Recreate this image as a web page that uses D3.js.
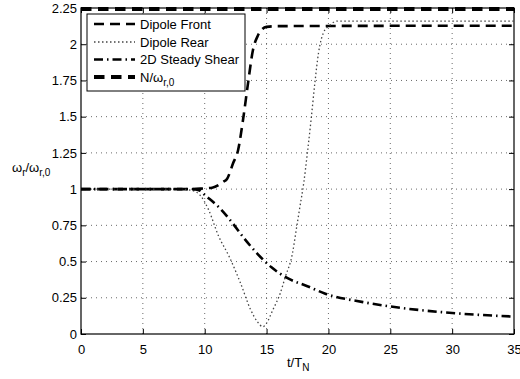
<!DOCTYPE html>
<html>
<head>
<meta charset="utf-8">
<script src="https://cdn.jsdelivr.net/npm/d3@7"></script>
<style>
  html, body { margin: 0; padding: 0; background: #fff; }
  svg { display: block; font-family: "Liberation Sans", Arial, Helvetica, sans-serif; }
</style>
</head>
<body>
<svg id="chart" width="520" height="379"></svg>
<script>
// ---- data ----
const xTicks = [0, 5, 10, 15, 20, 25, 30, 35];
const yTicks = [0, 0.25, 0.5, 0.75, 1, 1.25, 1.5, 1.75, 2, 2.25];
const yTickLabels = ["0", "0.25", "0.5", "0.75", "1", "1.25", "1.5", "1.75", "2", "2.25"];

const frontT = [0, 9, 9.9, 10.6, 11.5, 11.8, 12.3, 12.7, 13.1, 13.5, 13.9, 14.3, 14.6, 15, 16, 35];
const frontV = [1, 1, 1.005, 1.01, 1.05, 1.07, 1.18, 1.27, 1.48, 1.73, 1.96, 2.06, 2.1, 2.12, 2.125, 2.128];

const rearT = [0, 8, 9, 9.6, 10.3, 11.1, 12, 12.9, 13.7, 14.3, 14.7, 15, 15.5, 16.1, 16.5, 17.1, 17.4, 17.7, 18, 18.3, 18.6, 18.9, 19.2, 19.6, 20.1, 20.7, 35];
const rearV = [1, 1, 0.99, 0.96, 0.86, 0.68, 0.53, 0.35, 0.17, 0.08, 0.05, 0.075, 0.165, 0.28, 0.39, 0.56, 0.72, 0.88, 1.04, 1.25, 1.48, 1.73, 1.94, 2.08, 2.13, 2.16, 2.16];

const shearT = [0, 9, 9.6, 10, 11.2, 12.3, 13.1, 14.3, 15.4, 16.7, 18.3, 19.7, 22.8, 25, 30, 35];
const shearV = [1, 1, 0.99, 0.96, 0.87, 0.76, 0.67, 0.55, 0.46, 0.385, 0.33, 0.28, 0.22, 0.19, 0.145, 0.12];

const nT = [0, 35];
const nV = [2.243, 2.243];

const seriesNames = ["Dipole Front", "Dipole Rear", "2D Steady Shear", "N/ω"];

// ---- layout ----
const svg = d3.select("#chart");
const margin = {left: 81, right: 6, top: 8, bottom: 45};
const W = 520, H = 379;
const x = d3.scaleLinear().domain([0, 35]).range([margin.left, W - margin.right]);
const y = d3.scaleLinear().domain([0, 2.25]).range([H - margin.bottom, margin.top]);
const x0 = x.range()[0], x1 = x.range()[1], y0 = y.range()[0], y1 = y.range()[1];

// grid
const grid = svg.append("g");
grid.selectAll(".vg").data(xTicks.slice(1, -1)).enter().append("line")
  .attr("x1", d => x(d)).attr("x2", d => x(d)).attr("y1", y0).attr("y2", y1)
  .attr("stroke", "#444").attr("stroke-width", 0.8).attr("stroke-dasharray", "1,4");
grid.selectAll(".hg").data(yTicks.slice(1, -1)).enter().append("line")
  .attr("x1", x0).attr("x2", x1).attr("y1", d => y(d)).attr("y2", d => y(d))
  .attr("stroke", "#444").attr("stroke-width", 0.8).attr("stroke-dasharray", "1,4");

// axes (MATLAB style: inward ticks on all 4 sides)
const fontSize = 13;
const gBottom = svg.append("g").attr("transform", `translate(0,${y0})`)
  .call(d3.axisBottom(x).tickValues(xTicks).tickSizeInner(-5).tickSizeOuter(0).tickPadding(11));
const gTop = svg.append("g").attr("transform", `translate(0,${y1})`)
  .call(d3.axisTop(x).tickValues(xTicks).tickSizeInner(-5).tickSizeOuter(0).tickFormat(""));
const gLeft = svg.append("g").attr("transform", `translate(${x0},0)`)
  .call(d3.axisLeft(y).tickValues(yTicks).tickSizeInner(-5).tickSizeOuter(0).tickPadding(4)
    .tickFormat((d, i) => yTickLabels[i]));
const gRight = svg.append("g").attr("transform", `translate(${x1},0)`)
  .call(d3.axisRight(y).tickValues(yTicks).tickSizeInner(-5).tickSizeOuter(0).tickFormat(""));
[gBottom, gTop, gLeft, gRight].forEach(g => {
  g.select(".domain").remove();
  g.selectAll("line").attr("stroke", "#000").attr("stroke-width", 1);
  g.selectAll("text").attr("font-size", fontSize).attr("fill", "#000")
    .attr("font-family", "'Liberation Sans', Arial, sans-serif");
});
// frame
svg.append("rect").attr("x", x0).attr("y", y1).attr("width", x1 - x0).attr("height", y0 - y1)
  .attr("fill", "none").attr("stroke", "#000").attr("stroke-width", 1.2);

// clip
svg.append("defs").append("clipPath").attr("id", "clip").append("rect")
  .attr("x", x0).attr("y", y1 - 4).attr("width", x1 - x0).attr("height", y0 - y1 + 4);

const line = d3.line().x(d => x(d[0])).y(d => y(d[1])).curve(d3.curveMonotoneX);
const zip = (a, b) => a.map((v, i) => [v, b[i]]);

const styles = [
  {w: 2.6, dash: "10,6", color: "#000"},
  {w: 1.3, dash: "1.5,2.5", color: "#444"},
  {w: 2.6, dash: "9,4,1.5,4", color: "#000"},
  {w: 4, dash: "10.5,6.5", color: "#000"}
];
const datasets = [zip(frontT, frontV), zip(rearT, rearV), zip(shearT, shearV), zip(nT, nV)];
const plot = svg.append("g").attr("clip-path", "url(#clip)");
datasets.forEach((ds, i) => {
  plot.append("path").datum(ds).attr("d", line).attr("fill", "none")
    .attr("stroke", styles[i].color).attr("stroke-width", styles[i].w)
    .attr("stroke-dasharray", styles[i].dash);
});

// legend
const lg = svg.append("g");
lg.append("rect").attr("x", 87).attr("y", 14).attr("width", 158).attr("height", 77)
  .attr("fill", "#fff").attr("stroke", "#000").attr("stroke-width", 1);
const rowY = [24, 42, 59.5, 77];
seriesNames.forEach((name, i) => {
  lg.append("line").attr("x1", 94).attr("x2", 135).attr("y1", rowY[i]).attr("y2", rowY[i])
    .attr("stroke", styles[i].color).attr("stroke-width", styles[i].w)
    .attr("stroke-dasharray", styles[i].dash);
  const t = lg.append("text").attr("x", 140).attr("y", rowY[i] + 4.5)
    .attr("font-size", fontSize).attr("fill", "#000");
  if (i === 3) {
    t.append("tspan").text(name);
    t.append("tspan").attr("font-size", 10).attr("dy", 4).text("r,0");
  } else {
    t.text(name);
  }
});

// axis labels
const yl = svg.append("text").attr("x", 12).attr("y", 172).attr("font-size", fontSize).attr("fill", "#000");
yl.append("tspan").text("ω");
yl.append("tspan").attr("font-size", 10).attr("dy", 4).text("r");
yl.append("tspan").attr("dy", -4).text("/ω");
yl.append("tspan").attr("font-size", 10).attr("dy", 4).text("r,0");

const xl = svg.append("text").attr("x", 287).attr("y", 367).attr("font-size", fontSize).attr("fill", "#000");
xl.append("tspan").text("t/T");
xl.append("tspan").attr("font-size", 10).attr("dy", 4).text("N");
</script>
</body>
</html>
